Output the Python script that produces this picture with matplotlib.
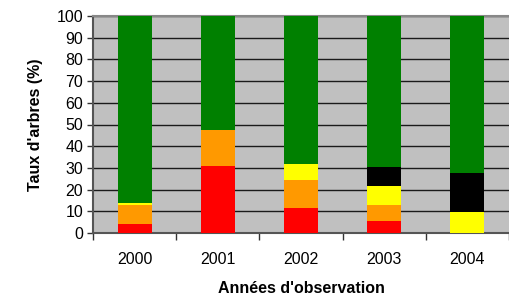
import matplotlib
matplotlib.use("Agg")
import matplotlib.pyplot as plt
import numpy as np

plt.rcParams['font.family'] = ['Liberation Sans', 'DejaVu Sans']

years = ['2000', '2001', '2002', '2003', '2004']
red = [4, 31, 11.5, 5.5, 0]
orange = [9, 16.5, 13, 7.5, 0]
yellow = [1, 0, 7.5, 8.7, 9.7]
black = [0, 0, 0, 8.7, 17.9]
green = [86, 52.5, 68, 69.6, 72.4]

series = [red, orange, yellow, black, green]
colors = ['#FF0000', '#FF9900', '#FFFF00', '#000000', '#008000']

fig = plt.figure(figsize=(5.09, 2.96), dpi=100)
ax = fig.add_axes([93 / 509, 63 / 296, 416 / 509, 217 / 296])
ax.set_facecolor('#C0C0C0')

x = np.arange(len(years))
bottom = np.zeros(len(years))
for vals, col in zip(series, colors):
    ax.bar(x, vals, width=0.41, bottom=bottom, color=col, zorder=3, linewidth=0)
    bottom += np.array(vals)

ax.set_ylim(0, 100)
ax.set_xlim(-0.5, len(years) - 0.5)
ax.set_yticks(np.arange(0, 101, 10))
ax.yaxis.grid(True, color='#1a1a1a', linewidth=1.0, zorder=1)
ax.set_axisbelow(True)

ax.set_xticks(np.arange(-0.5, len(years), 1.0))
ax.set_xticklabels([])
ax.set_xticks(x, minor=True)
ax.set_xticklabels(years, minor=True)
ax.tick_params(axis='x', which='minor', length=0, pad=14, labelsize=11.5)
ax.tick_params(axis='x', which='major', length=5, width=1, color='#333333')
ax.tick_params(axis='y', length=4, width=1, color='#333333', labelsize=11.5, pad=3)

for side in ['left', 'bottom']:
    ax.spines[side].set_color('#555555')
    ax.spines[side].set_linewidth(1.5)
ax.spines['top'].set_color('#888888')
ax.spines['top'].set_linewidth(1.5)
ax.spines['right'].set_visible(False)

ax.set_ylabel("Taux d'arbres (%)", fontsize=11.5, fontweight='bold', labelpad=10)
ax.set_xlabel("Années d'observation", fontsize=11.5, fontweight='bold', labelpad=10)

fig.savefig('out.png', dpi=100)
